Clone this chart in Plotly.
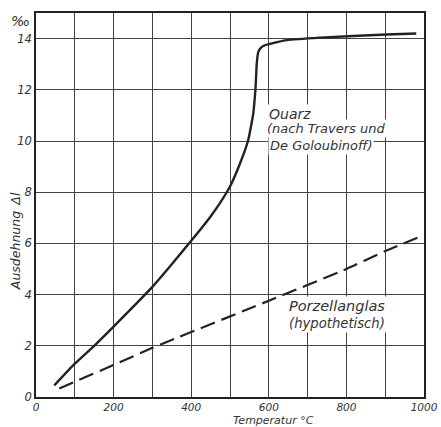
import plotly.graph_objects as go

# Quarz (nach Travers und De Goloubinoff)
quarz_t = [47, 100, 150, 200, 300, 400, 450, 474, 500, 526, 547, 560, 566, 569, 573, 580, 590, 624, 646, 732, 903, 980]
quarz_dl = [0.45, 1.3, 2.0, 2.75, 4.3, 6.1, 7.05, 7.57, 8.22, 9.13, 10.04, 11.08, 12.12, 13.03, 13.48, 13.65, 13.74, 13.87, 13.94, 14.04, 14.16, 14.2]

# Porzellanglas (hypothetisch)
glas_t = [60, 100, 200, 300, 600, 800, 900, 996]
glas_dl = [0.33, 0.6, 1.25, 1.92, 3.76, 5.0, 5.7, 6.3]

x_ticks = list(range(0, 1001, 100))
x_labels = [str(v) if v % 200 == 0 else "" for v in x_ticks]
y_ticks = list(range(0, 15, 2))
y_labels = [str(v) for v in y_ticks]

INK = "#222222"
TXT = "#333333"
FONT = "DejaVu Sans"

fig = go.Figure()
fig.add_trace(go.Scatter(x=quarz_t, y=quarz_dl, mode="lines",
                         line=dict(color=INK, width=2.4, shape="spline", smoothing=0.4),
                         showlegend=False, hoverinfo="skip"))
fig.add_trace(go.Scatter(x=glas_t, y=glas_dl, mode="lines",
                         line=dict(color=INK, width=2.2, dash="15px,7px", shape="spline", smoothing=0.5),
                         showlegend=False, hoverinfo="skip"))

fig.update_layout(
    width=441, height=427,
    margin=dict(l=36, r=17, t=13, b=30),
    paper_bgcolor="white", plot_bgcolor="white",
    font=dict(family=FONT, color=TXT),
    xaxis=dict(range=[0, 1000], tickvals=x_ticks, ticktext=x_labels,
               showgrid=True, gridcolor="#444444", gridwidth=1.2,
               showline=True, linecolor=INK, linewidth=1.5, mirror=True,
               zeroline=False, ticks="", automargin=False,
               tickfont=dict(family=FONT, size=10.5, color=TXT, style="italic")),
    yaxis=dict(range=[0, 15], tickvals=y_ticks, ticktext=y_labels,
               showgrid=True, gridcolor="#444444", gridwidth=1.2,
               showline=True, linecolor=INK, linewidth=1.5, mirror=True,
               zeroline=False, ticks="", automargin=False,
               tickfont=dict(family=FONT, size=11.5, color=TXT, style="italic")),
)

def note(text, x, y, size, xref="x", yref="y", xanchor="left", yanchor="middle",
         bg="white", angle=0, pad=1):
    fig.add_annotation(text=text, x=x, y=y, xref=xref, yref=yref, showarrow=False,
                       xanchor=xanchor, yanchor=yanchor, textangle=angle, align="left",
                       bgcolor=bg, borderpad=pad,
                       font=dict(family=FONT, size=size, color=TXT, style="italic"))

note("Quarz", 595, 11.07, 14)
note("(nach Travers und", 591, 10.5, 13)
note("De Goloubinoff)", 598, 9.83, 13)
note("<span style='font-size:14.5px'>Porzellanglas</span><br>(hypothetisch)", 647, 3.24, 13.2)
note("Temperatur °C", 611, -0.0795, 11, yref="paper", xanchor="center", yanchor="bottom",
     bg="rgba(0,0,0,0)", pad=0)
note("Ausdehnung\u2002Δl", -0.054, 6.09, 12.5, xref="paper", xanchor="center", bg="rgba(0,0,0,0)", angle=-90)
note("‰", -0.039, 14.7, 14, xref="paper", xanchor="center", bg="rgba(0,0,0,0)")

fig.write_html("out.html")
